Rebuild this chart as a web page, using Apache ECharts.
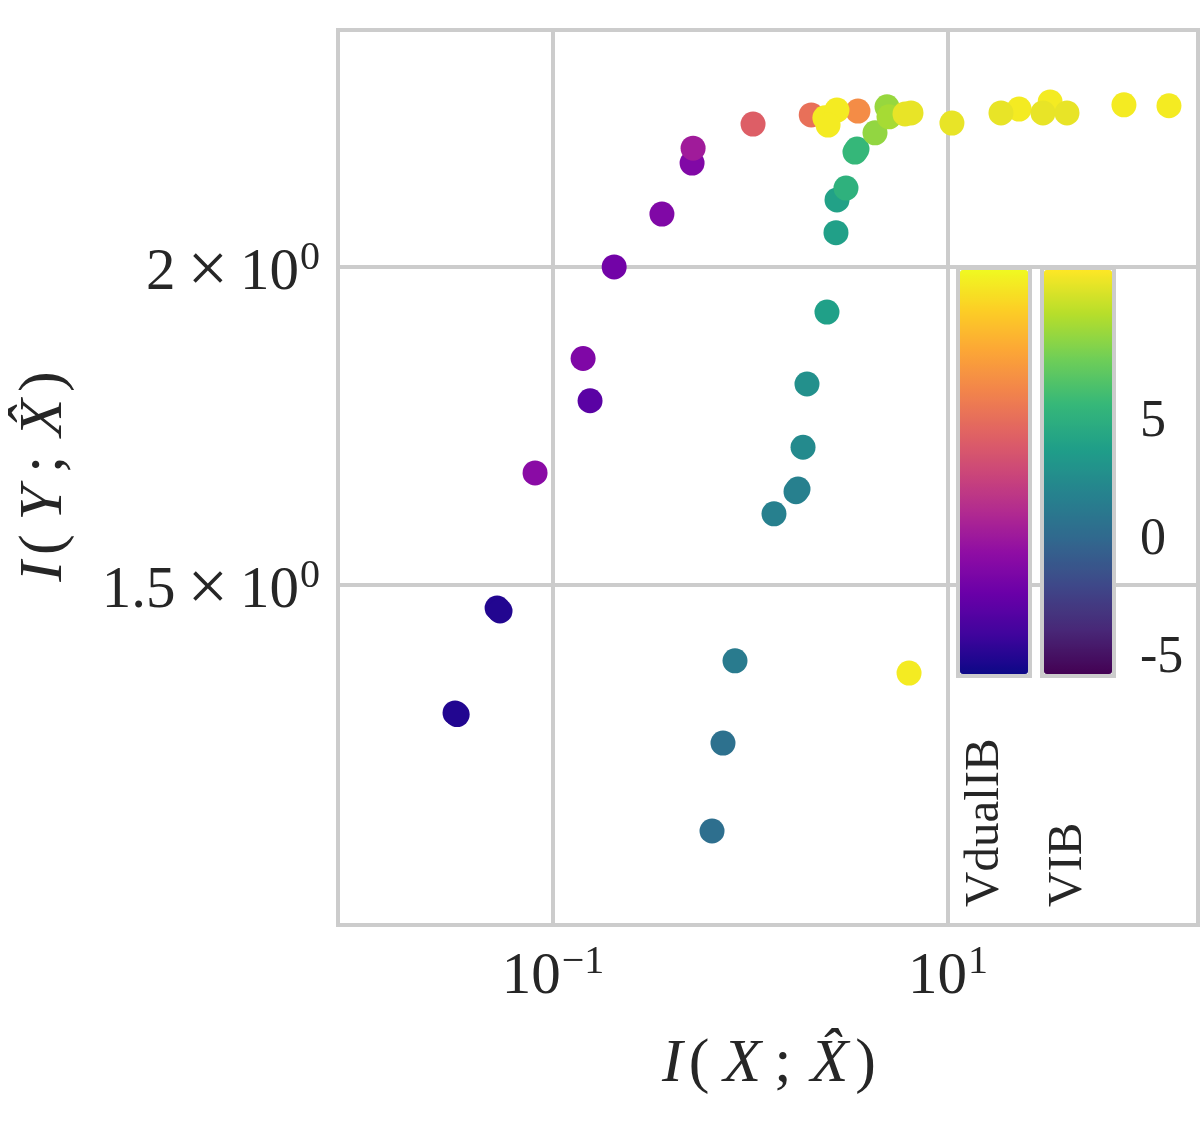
<!DOCTYPE html>
<html><head><meta charset="utf-8">
<script src="https://cdn.jsdelivr.net/npm/echarts@6/dist/echarts.min.js"></script>
<style>html,body{margin:0;padding:0;background:#fff}#c{width:1200px;height:1134px}</style>
</head><body><div id="c"></div>
<script>
// ---- data ----
const xTicks = [0.1, 10];
const yTicks = [1.5, 2];
const cbTicks = [5, 0, -5];
const cbRange = [-5.6, 11.55];
const seriesNames = ['VdualIB', 'VIB'];

const dualX = [0.0521, 0.0539, 0.0319, 0.0327, 0.0811, 0.154, 0.142, 0.204, 0.356, 0.506, 0.512, 1.03, 2.03, 3.50, 2.38, 2.74, 2.47, 6.35, 22.9, 32.9, 77.8, 131.5];
const dualY = [1.469, 1.465, 1.336, 1.334, 1.660, 1.772, 1.841, 2.000, 2.098, 2.197, 2.227, 2.276, 2.295, 2.303, 2.289, 2.305, 2.274, 1.385, 2.307, 2.322, 2.316, 2.314];
const dualC = [-4.9, -4.9, -4.9, -4.9, -0.7, -2.85, -1.2, -1.8, -1.15, -1.1, 0.4, 4.35, 5.35, 6.8, 11.0, 11.0, 11.0, 11.0, 11.0, 11.0, 11.0, 11.0];

const vibX = [0.6385, 0.7256, 0.8346, 1.315, 1.700, 1.740, 1.845, 1.932, 2.439, 2.709, 2.742, 3.044, 3.381, 3.461, 4.270, 4.911, 5.027, 6.057, 6.496, 10.47, 18.55, 30.27, 40.05];
const vibY = [1.2006, 1.300, 1.4004, 1.5996, 1.632, 1.636, 1.699, 1.799, 1.920, 2.063, 2.125, 2.148, 2.219, 2.225, 2.258, 2.312, 2.291, 2.297, 2.299, 2.278, 2.299, 2.299, 2.299];
const vibC = [0.6, 0.76, 1.5, 1.85, 1.9, 1.9, 2.55, 2.95, 4.05, 4.1, 4.15, 5.35, 5.8, 5.8, 8.7, 8.85, 9.25, 11.0, 11.0, 11.0, 11.0, 11.0, 11.0];

const xExtent = [0.00815, 184.5];
const yExtent = [1.1027, 2.4782];

const plasma = ['#0d0887','#41049d','#6a00a8','#8f0da4','#b12a90','#cc4778','#e16462','#f2844b','#fca636','#fcce25','#f0f921'];
const viridis = ['#440154','#482878','#3e4989','#31688e','#26828e','#1f9e89','#35b779','#6ece58','#b5de2b','#fde725'];

// ---- styling / layout ----
const TXT = '#262626';
const GRIDC = '#cccccc';
const FONT = 'Liberation Serif';
const G = {left: 338, right: 2, top: 30, bottom: 209};
const CB = {top: 268, height: 404, width: 68, lefts: [958, 1042], tickX: 1140, labelX: [985.5, 1068], labelY: 907};

function zip(xs, ys, cs) { return xs.map((x, i) => [x, ys[i], cs[i]]); }

function expLabel(v, withMantissa) {
  const e = Math.floor(Math.log10(v) + 1e-9);
  const m = +(v / Math.pow(10, e)).toFixed(2);
  const es = e < 0 ? '\u2212' + (-e) : String(e);
  const pre = withMantissa ? '{m|' + m + '}{x|\u00d7}' : '';
  return pre + '{m|10}{s|' + es + '}';
}
const tickRich = {
  m: {fontFamily: FONT, fontSize: 59, lineHeight: 70, color: TXT},
  x: {fontFamily: FONT, fontSize: 72, lineHeight: 70, color: TXT, padding: [0, 12, 0, 12]},
  s: {fontFamily: FONT, fontSize: 40, lineHeight: 38, verticalAlign: 'top', color: TXT, padding: [0, 0, 0, 1]}
};
function nameRich() {
  const base = {fontFamily: FONT, fontSize: 62, lineHeight: 70, color: TXT};
  const it = Object.assign({}, base, {fontStyle: 'italic'});
  return {
    a: Object.assign({}, it, {padding: [0, 0, 0, 4]}),
    b: Object.assign({}, base, {padding: [0, 0, 0, 6]}),
    c: Object.assign({}, it, {padding: [0, 0, 0, 14]}),
    d: Object.assign({}, base, {padding: [0, 0, 0, 13]}),
    e: Object.assign({}, it, {padding: [0, 0, 0, 19]}),
    f: Object.assign({}, base, {padding: [0, 2, 0, 7]})
  };
}
function mathName(v) { return '{a|I}{b|(}{c|' + v + '}{d|;}{e|X\u0302}{f|)}'; }

const graphics = [];
cbTicks.forEach(t => {
  const y = CB.top + (cbRange[1] - t) / (cbRange[1] - cbRange[0]) * CB.height;
  graphics.push({type: 'text', x: CB.tickX, y: y, style: {text: String(t), fontFamily: FONT, fontSize: 52, fill: TXT, align: 'left', verticalAlign: 'middle'}, z: 10});
});
seriesNames.forEach((n, i) => {
  graphics.push({type: 'text', x: CB.labelX[i], y: CB.labelY, rotation: Math.PI / 2, style: {text: n, fontFamily: FONT, fontSize: 49, fill: TXT, align: 'left', verticalAlign: 'middle'}, z: 10});
});

const option = {
  animation: false,
  backgroundColor: '#ffffff',
  grid: Object.assign({show: true, borderColor: GRIDC, borderWidth: 4, backgroundColor: 'transparent', containLabel: false, outerBoundsMode: 'none'}, G),
  xAxis: {
    type: 'log', logBase: 10, min: xExtent[0], max: xExtent[1],
    axisLine: {show: false}, axisTick: {show: false, customValues: xTicks},
    axisLabel: {customValues: xTicks, formatter: v => expLabel(v, false), rich: tickRich, margin: 17},
    splitLine: {show: true, lineStyle: {color: GRIDC, width: 4}},
    name: mathName('X'), nameLocation: 'middle', nameGap: 105, nameTextStyle: {rich: nameRich()}
  },
  yAxis: {
    type: 'log', logBase: 10, min: yExtent[0], max: yExtent[1],
    axisLine: {show: false}, axisTick: {show: false, customValues: yTicks},
    axisLabel: {customValues: yTicks, formatter: v => expLabel(v, true), rich: tickRich, margin: 18, padding: [13, 0, 0, 0]},
    splitLine: {show: true, lineStyle: {color: GRIDC, width: 4}},
    name: mathName('Y'), nameLocation: 'middle', nameRotate: 90, nameGap: 258, nameTextStyle: {rich: nameRich()}
  },
  visualMap: [
    {type: 'continuous', seriesIndex: 0, dimension: 2, min: cbRange[0], max: cbRange[1], inRange: {color: plasma},
     orient: 'vertical', itemWidth: CB.width, itemHeight: CB.height, left: CB.lefts[0] - 2, top: CB.top - 2,
     padding: 2, borderColor: GRIDC, borderWidth: 4, calculable: false, text: null, hoverLink: false},
    {type: 'continuous', seriesIndex: 1, dimension: 2, min: cbRange[0], max: cbRange[1], inRange: {color: viridis},
     orient: 'vertical', itemWidth: CB.width, itemHeight: CB.height, left: CB.lefts[1] - 2, top: CB.top - 2,
     padding: 2, borderColor: GRIDC, borderWidth: 4, calculable: false, text: null, hoverLink: false}
  ],
  series: [
    {name: seriesNames[0], type: 'scatter', data: zip(dualX, dualY, dualC), symbolSize: 25, itemStyle: {opacity: 1}},
    {name: seriesNames[1], type: 'scatter', data: zip(vibX, vibY, vibC), symbolSize: 25, itemStyle: {opacity: 1}}
  ],
  graphic: graphics
};
const chart = echarts.init(document.getElementById('c'), null, {renderer: 'canvas'});
chart.setOption(option);
</script>
</body></html>
